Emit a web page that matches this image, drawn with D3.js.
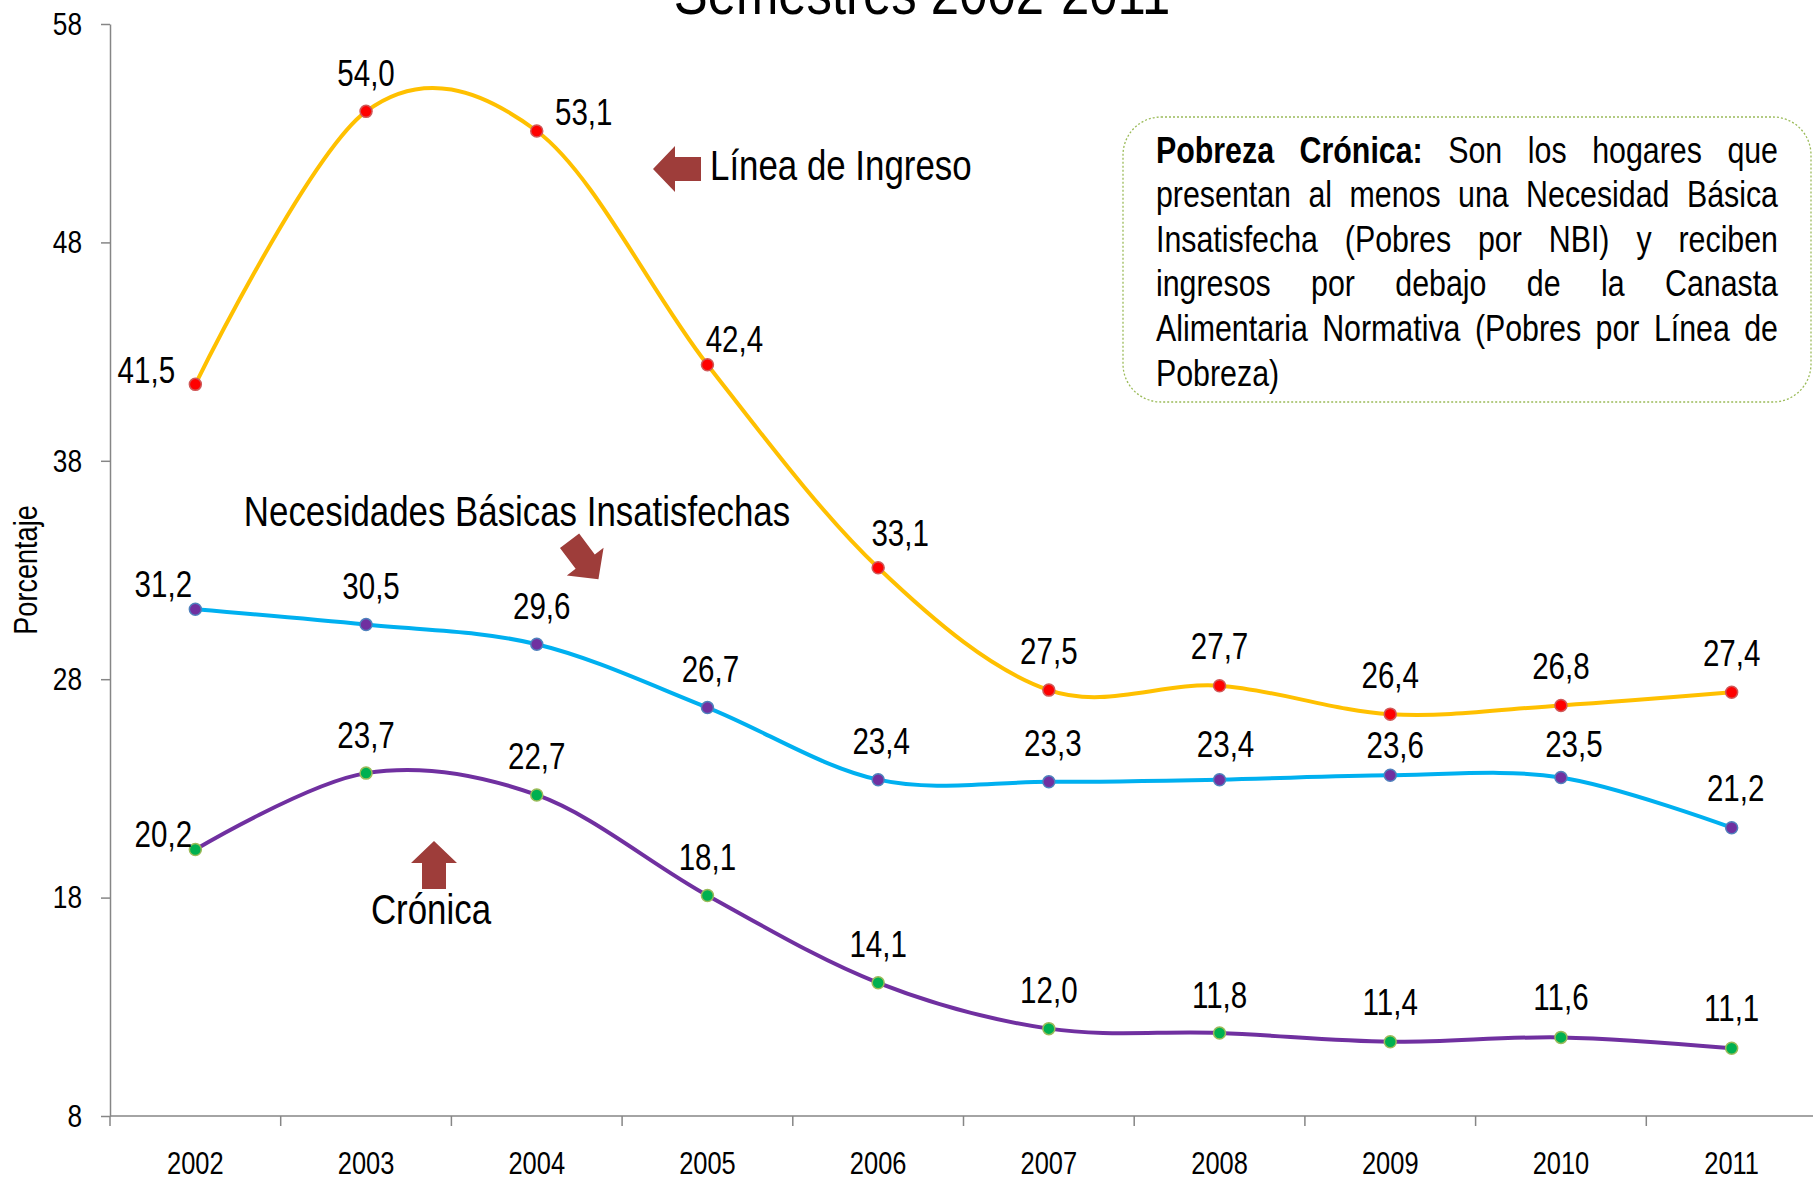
<!DOCTYPE html>
<html>
<head>
<meta charset="utf-8">
<script src="https://cdn.jsdelivr.net/npm/d3@7"></script>
<style>
  body { margin: 0; background: #fff; }
  svg { display: block; font-family: "Liberation Sans", Arial, sans-serif; }
</style>
</head>
<body>
<div id="chart"></div>
<script>
// data
const years = ["2002", "2003", "2004", "2005", "2006", "2007", "2008", "2009", "2010", "2011"];
const ingreso = [41.5, 54.0, 53.1, 42.4, 33.1, 27.5, 27.7, 26.4, 26.8, 27.4];
const nbi = [31.2, 30.5, 29.6, 26.7, 23.4, 23.3, 23.4, 23.6, 23.5, 21.2];
const cronica = [20.2, 23.7, 22.7, 18.1, 14.1, 12.0, 11.8, 11.4, 11.6, 11.1];
const yTicks = [8, 18, 28, 38, 48, 58];

// label placement (dx, dy from the point)
const ingresoLabelPos = [[-49, -14], [0, -38], [47, -19], [27, -25], [22, -34], [0, -39], [0, -39], [0, -39], [0, -39], [0, -39]];
const nbiLabelPos = [[-32, -25], [5, -38], [5, -38], [3, -38], [3, -38], [4, -38], [6, -35], [5, -30], [13, -33], [4, -39]];
const cronicaLabelPos = [[-32, -15], [0, -38], [0, -38], [0, -38], [0, -38], [0, -38], [0, -38], [0, -39], [0, -40], [0, -40]];

const boxLines = [
  [["Pobreza", true], ["Crónica:", true], ["Son", false], ["los", false], ["hogares", false], ["que", false]],
  [["presentan"], ["al"], ["menos"], ["una"], ["Necesidad"], ["Básica"]],
  [["Insatisfecha"], ["(Pobres"], ["por"], ["NBI)"], ["y"], ["reciben"]],
  [["ingresos"], ["por"], ["debajo"], ["de"], ["la"], ["Canasta"]],
  [["Alimentaria"], ["Normativa"], ["(Pobres"], ["por"], ["Línea"], ["de"]],
  [["Pobreza)"]]
];

const width = 1813, height = 1181;
const svg = d3.select("#chart").append("svg")
    .attr("width", width)
    .attr("height", height);

// squeeze text horizontally to get an Arial Narrow look
const NARROW = 0.82;
function narrow(sel) {
  sel.each(function () {
    const w = this.getComputedTextLength();
    d3.select(this).attr("textLength", w * NARROW).attr("lengthAdjust", "spacingAndGlyphs");
  });
  return sel;
}

const x = d3.scaleBand().domain(years).range([110, 1817]);
const y = d3.scaleLinear().domain([8, 58]).range([1116, 24]);

const axisColor = "#868686";

// title (cut by the top edge)
svg.append("text")
    .attr("x", 922).attr("y", 14)
    .attr("text-anchor", "middle")
    .attr("font-size", 62)
    .text("Semestres 2002-2011")
    .call(narrow);

// y axis
const yAxis = svg.append("g")
    .attr("transform", "translate(110,0)")
    .call(d3.axisLeft(y).tickValues(yTicks).tickSize(9).tickSizeOuter(0).tickPadding(19));
yAxis.select(".domain").attr("stroke", axisColor).attr("stroke-width", 1.5);
yAxis.selectAll(".tick line").attr("stroke", axisColor).attr("stroke-width", 1.5);
yAxis.selectAll(".tick text")
    .attr("font-family", "inherit").attr("fill", "#000")
    .style("font-size", "32px")
    .call(narrow);

svg.append("text")
    .attr("transform", "translate(25,570) rotate(-90)")
    .attr("text-anchor", "middle")
    .attr("dominant-baseline", "central")
    .attr("font-size", 33)
    .text("Porcentaje")
    .call(narrow);

// x axis
const xg = svg.append("g");
xg.append("line")
    .attr("x1", 110).attr("x2", width)
    .attr("y1", y(8)).attr("y2", y(8))
    .attr("stroke", axisColor).attr("stroke-width", 1.5);
xg.selectAll(".xtick")
    .data(years.concat(["end"]))
    .join("line")
    .attr("x1", (d, i) => x.range()[0] + i * x.bandwidth())
    .attr("x2", (d, i) => x.range()[0] + i * x.bandwidth())
    .attr("y1", y(8)).attr("y2", y(8) + 10)
    .attr("stroke", axisColor).attr("stroke-width", 1.5);
xg.selectAll(".xlab")
    .data(years)
    .join("text")
    .attr("x", d => x(d) + x.bandwidth() / 2)
    .attr("y", 1163)
    .attr("text-anchor", "middle")
    .attr("dominant-baseline", "central")
    .attr("font-size", 31)
    .text(d => d)
    .call(narrow);

// series
const series = [
  { values: ingreso, line: "#FFC000", fill: "#FF0000", stroke: "#D05858", labels: ingresoLabelPos },
  { values: nbi, line: "#00B0F0", fill: "#7030A0", stroke: "#4F81BD", labels: nbiLabelPos },
  { values: cronica, line: "#7030A0", fill: "#00B050", stroke: "#9BBB59", labels: cronicaLabelPos }
];

const cx = i => x(years[i]) + x.bandwidth() / 2;
const line = d3.line()
    .x((d, i) => cx(i))
    .y(d => y(d))
    .curve(d3.curveCatmullRom.alpha(0));

series.forEach(s => {
  svg.append("path")
      .datum(s.values)
      .attr("d", line)
      .attr("fill", "none")
      .attr("stroke", s.line)
      .attr("stroke-width", 4);
});

series.forEach(s => {
  svg.append("g").selectAll("circle")
      .data(s.values)
      .join("circle")
      .attr("cx", (d, i) => cx(i))
      .attr("cy", d => y(d))
      .attr("r", 6)
      .attr("fill", s.fill)
      .attr("stroke", s.stroke)
      .attr("stroke-width", 1.5);
  svg.append("g").selectAll("text")
      .data(s.values)
      .join("text")
      .attr("x", (d, i) => cx(i) + s.labels[i][0])
      .attr("y", (d, i) => y(d) + s.labels[i][1])
      .attr("text-anchor", "middle")
      .attr("dominant-baseline", "central")
      .attr("font-size", 36)
      .text(d => d.toFixed(1).replace(".", ","))
      .call(narrow);
});

// block arrows
const arrowPath = "M-24,-12L2,-12L2,-23L24,0L2,23L2,12L-24,12Z";
const arrowColor = "#9E3D3A";
[
  { t: "translate(677,169) rotate(180)" },
  { t: "translate(584,560) rotate(53)" },
  { t: "translate(434,865) rotate(-90)" }
].forEach(a => {
  svg.append("path").attr("d", arrowPath).attr("transform", a.t).attr("fill", arrowColor);
});

svg.append("text").attr("x", 710).attr("y", 165)
    .attr("dominant-baseline", "central").attr("font-size", 42.5)
    .text("Línea de Ingreso").call(narrow);
svg.append("text").attr("x", 517).attr("y", 511)
    .attr("text-anchor", "middle")
    .attr("dominant-baseline", "central").attr("font-size", 42.5)
    .text("Necesidades Básicas Insatisfechas").call(narrow);
svg.append("text").attr("x", 431).attr("y", 909)
    .attr("text-anchor", "middle")
    .attr("dominant-baseline", "central").attr("font-size", 42.5)
    .text("Crónica").call(narrow);

// definition box
svg.append("rect")
    .attr("x", 1123).attr("y", 117)
    .attr("width", 688).attr("height", 285)
    .attr("rx", 38).attr("ry", 38)
    .attr("fill", "none")
    .attr("stroke", "#9BBB59")
    .attr("stroke-width", 1.3)
    .attr("stroke-dasharray", "2,2");

const boxLeft = 1156, boxRight = 1778, lineTop = 150, lineStep = 44.6;
boxLines.forEach((words, li) => {
  const g = svg.append("g");
  const texts = words.map(w => g.append("text")
      .attr("y", lineTop + li * lineStep)
      .attr("dominant-baseline", "central")
      .attr("font-size", 37)
      .attr("font-weight", w[1] ? "bold" : "normal")
      .text(w[0]));
  const widths = texts.map(t => t.node().getComputedTextLength() * NARROW);
  texts.forEach((t, i) => t.attr("textLength", widths[i]).attr("lengthAdjust", "spacingAndGlyphs"));
  const total = d3.sum(widths);
  const last = li === boxLines.length - 1;
  const gap = last || words.length < 2 ? 9 : (boxRight - boxLeft - total) / (words.length - 1);
  let pos = boxLeft;
  texts.forEach((t, i) => {
    t.attr("x", pos);
    pos += widths[i] + gap;
  });
});
</script>
</body>
</html>
